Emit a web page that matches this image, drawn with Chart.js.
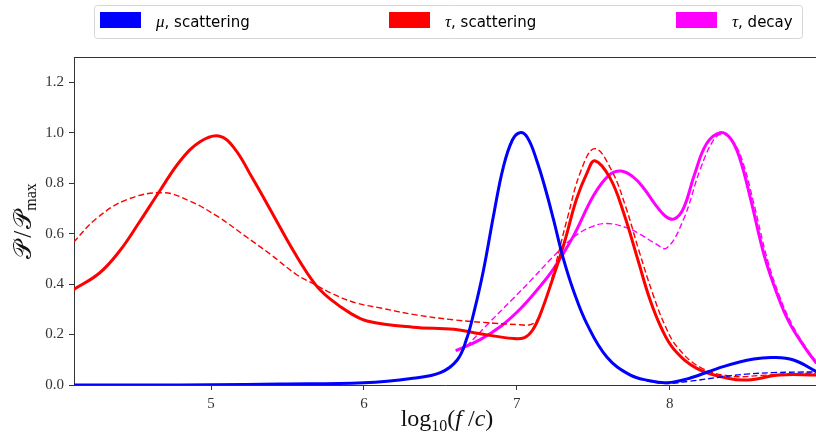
<!DOCTYPE html>
<html>
<head>
<meta charset="utf-8">
<script src="https://cdn.jsdelivr.net/npm/chart.js@4.4.1/dist/chart.umd.min.js"></script>
<style>
  html, body { margin: 0; padding: 0; background: #fff; }
  #wrap { width: 816px; height: 437px; position: relative; }
</style>
</head>
<body>
<div id="wrap"><canvas id="specChart"></canvas></div>
<script>
// axis ticks
const xTicks = [5, 6, 7, 8];
const yTicks = [0, 0.2, 0.4, 0.6, 0.8, 1.0, 1.2];

// mu, scattering (solid + dashed)
const muScatX = [4.10, 4.60, 5.00, 5.45, 6.00, 6.32, 6.50, 6.61, 6.67, 6.72, 6.78, 6.85, 6.91, 6.97, 7.02, 7.07, 7.13, 7.19, 7.24, 7.30, 7.37, 7.46, 7.59, 7.74, 7.86, 7.98, 8.13, 8.35, 8.55, 8.68, 8.81, 8.96];
const muScatY = [0.000, 0.000, 0.001, 0.004, 0.009, 0.027, 0.049, 0.099, 0.180, 0.290, 0.450, 0.680, 0.860, 0.970, 1.000, 0.980, 0.890, 0.770, 0.655, 0.510, 0.375, 0.240, 0.110, 0.040, 0.018, 0.009, 0.027, 0.073, 0.103, 0.109, 0.099, 0.053];
const muScatDashX = [4.10, 4.60, 5.00, 5.45, 6.00, 6.32, 6.50, 6.61, 6.67, 6.72, 6.78, 6.85, 6.91, 6.97, 7.02, 7.07, 7.13, 7.19, 7.24, 7.30, 7.37, 7.46, 7.59, 7.74, 7.86, 7.98, 8.13, 8.35, 8.50, 8.68, 8.96];
const muScatDashY = [0.000, 0.000, 0.001, 0.004, 0.009, 0.027, 0.049, 0.099, 0.180, 0.290, 0.450, 0.680, 0.860, 0.970, 1.000, 0.980, 0.890, 0.770, 0.655, 0.510, 0.375, 0.240, 0.110, 0.040, 0.016, 0.006, 0.015, 0.033, 0.043, 0.049, 0.052];

// tau, scattering (solid + dashed)
const tauScatX = [4.10, 4.27, 4.40, 4.53, 4.67, 4.80, 4.93, 5.05, 5.15, 5.27, 5.41, 5.54, 5.68, 5.78, 5.91, 6.02, 6.32, 6.59, 6.76, 6.98, 7.05, 7.10, 7.15, 7.24, 7.31, 7.39, 7.46, 7.51, 7.61, 7.70, 7.79, 7.87, 7.95, 8.03, 8.18, 8.38, 8.51, 8.72, 8.96];
const tauScatY = [0.378, 0.444, 0.530, 0.645, 0.775, 0.890, 0.965, 0.987, 0.940, 0.820, 0.670, 0.530, 0.400, 0.340, 0.285, 0.254, 0.229, 0.221, 0.203, 0.184, 0.188, 0.215, 0.275, 0.431, 0.563, 0.736, 0.842, 0.889, 0.820, 0.680, 0.500, 0.340, 0.220, 0.140, 0.065, 0.027, 0.020, 0.040, 0.040];
const tauScatDashX = [4.10, 4.25, 4.45, 4.69, 4.86, 5.04, 5.21, 5.39, 5.56, 5.68, 5.80, 5.95, 6.11, 6.32, 6.59, 6.85, 7.02, 7.08, 7.13, 7.18, 7.25, 7.33, 7.42, 7.51, 7.62, 7.71, 7.80, 7.89, 7.97, 8.05, 8.20, 8.40, 8.60, 8.80, 8.96];
const tauScatDashY = [0.566, 0.660, 0.735, 0.762, 0.729, 0.669, 0.596, 0.517, 0.437, 0.398, 0.360, 0.325, 0.305, 0.280, 0.258, 0.245, 0.239, 0.238, 0.255, 0.320, 0.470, 0.660, 0.850, 0.937, 0.850, 0.710, 0.530, 0.360, 0.235, 0.150, 0.070, 0.035, 0.038, 0.045, 0.047];

// tau, decay (solid + dashed)
const tauDecayX = [6.60, 6.76, 6.90, 7.02, 7.13, 7.24, 7.37, 7.50, 7.60, 7.68, 7.76, 7.83, 7.90, 7.97, 8.03, 8.09, 8.16, 8.24, 8.33, 8.40, 8.46, 8.53, 8.62, 8.70, 8.78, 8.88, 8.96];
const tauDecayY = [0.136, 0.180, 0.235, 0.300, 0.375, 0.460, 0.590, 0.749, 0.830, 0.848, 0.825, 0.780, 0.720, 0.670, 0.658, 0.700, 0.830, 0.955, 1.000, 0.975, 0.895, 0.735, 0.510, 0.365, 0.250, 0.152, 0.086];
const tauDecayDashX = [6.63, 6.80, 6.98, 7.10, 7.24, 7.37, 7.48, 7.59, 7.72, 7.81, 7.90, 7.98, 8.09, 8.20, 8.29, 8.35, 8.42, 8.48, 8.55, 8.64, 8.72, 8.80, 8.90, 8.96];
const tauDecayDashY = [0.127, 0.235, 0.345, 0.420, 0.510, 0.585, 0.625, 0.640, 0.623, 0.596, 0.563, 0.543, 0.656, 0.855, 0.974, 0.995, 0.960, 0.880, 0.720, 0.495, 0.350, 0.240, 0.140, 0.090];

const toPoints = (xs, ys) => xs.map((x, i) => ({ x: x, y: ys[i] }));

function lineSet(label, xs, ys, color, dashed) {
  return {
    label: label,
    data: toPoints(xs, ys),
    borderColor: color,
    backgroundColor: color,
    borderWidth: dashed ? 1.4 : 3,
    borderDash: dashed ? [6, 3] : [],
    pointRadius: 0,
    tension: 0.4,
    fill: false
  };
}

const serif = "'Liberation Serif', 'DejaVu Serif', serif";

// legend + axis titles + top frame line, matplotlib style
const decorPlugin = {
  id: 'decor',
  afterDraw(chart) {
    const ctx = chart.ctx;
    const area = chart.chartArea;
    ctx.save();

    // top spine
    ctx.strokeStyle = '#333';
    ctx.lineWidth = 1;
    ctx.beginPath();
    ctx.moveTo(area.left, area.top + 0.5);
    ctx.lineTo(area.right, area.top + 0.5);
    ctx.stroke();

    // legend frame
    ctx.strokeStyle = '#d6d6d6';
    ctx.fillStyle = 'rgba(255,255,255,0.8)';
    ctx.beginPath();
    ctx.roundRect(94.5, 5.5, 708, 33, 3);
    ctx.fill();
    ctx.stroke();

    const items = [
      { sym: 'μ', rest: ', scattering', color: '#0000ff', x: 100 },
      { sym: 'τ', rest: ', scattering', color: '#ff0000', x: 389 },
      { sym: 'τ', rest: ', decay', color: '#ff00ff', x: 676 }
    ];
    items.forEach(it => {
      ctx.fillStyle = it.color;
      ctx.fillRect(it.x, 12, 41, 16);
      ctx.fillStyle = '#000';
      ctx.textBaseline = 'alphabetic';
      ctx.textAlign = 'left';
      ctx.font = "italic 17px " + serif;
      let tx = it.x + 56;
      ctx.fillText(it.sym, tx, 27);
      tx += ctx.measureText(it.sym).width;
      ctx.font = "15px 'DejaVu Sans', sans-serif";
      ctx.fillText(it.rest, tx, 27);
    });

    // x axis title: log10(f/c)
    ctx.fillStyle = '#111';
    const xParts = [
      { t: 'log', f: "24px " + serif, dy: 0 },
      { t: '10', f: "16px " + serif, dy: 5 },
      { t: '(', f: "24px " + serif, dy: 0 },
      { t: 'f', f: "italic 24px " + serif, dy: 0 },
      { t: ' /', f: "24px " + serif, dy: 0 },
      { t: 'c', f: "italic 24px " + serif, dy: 0 },
      { t: ')', f: "24px " + serif, dy: 0 }
    ];
    let w = 0;
    xParts.forEach(p => { ctx.font = p.f; w += ctx.measureText(p.t).width; });
    let cx = (area.left + area.right) / 2 - w / 2 + 2;
    xParts.forEach(p => {
      ctx.font = p.f;
      ctx.fillText(p.t, cx, 426 + p.dy);
      cx += ctx.measureText(p.t).width;
    });

    // y axis title: P/P_max
    const yParts = [
      { t: '𝒫', f: "25px " + serif, dy: 0, gap: 3 },
      { t: '/', f: "25px " + serif, dy: 0, gap: 2 },
      { t: '𝒫', f: "25px " + serif, dy: 0, gap: 0 },
      { t: 'max', f: "16px " + serif, dy: 5, gap: 0 }
    ];
    w = 0;
    yParts.forEach(p => { ctx.font = p.f; w += ctx.measureText(p.t).width + p.gap; });
    ctx.translate(31, 221);
    ctx.rotate(-Math.PI / 2);
    cx = -w / 2;
    yParts.forEach(p => {
      ctx.font = p.f;
      ctx.fillText(p.t, cx, p.dy);
      cx += ctx.measureText(p.t).width + p.gap;
    });
    ctx.restore();
  }
};

const specChart = new Chart(document.getElementById('specChart'), {
  type: 'line',
  data: {
    datasets: [
      lineSet('μ, scattering', muScatX, muScatY, '#0000ff', false),
      lineSet('μ, scattering (dashed)', muScatDashX, muScatDashY, '#0000ff', true),
      lineSet('τ, scattering', tauScatX, tauScatY, '#ff0000', false),
      lineSet('τ, scattering (dashed)', tauScatDashX, tauScatDashY, '#ff0000', true),
      lineSet('τ, decay', tauDecayX, tauDecayY, '#ff00ff', false),
      lineSet('τ, decay (dashed)', tauDecayDashX, tauDecayDashY, '#ff00ff', true)
    ]
  },
  options: {
    responsive: true,
    maintainAspectRatio: false,
    animation: false,
    layout: { padding: { top: 57, left: 0, right: 0, bottom: 0 } },
    plugins: {
      legend: { display: false },
      tooltip: { enabled: false }
    },
    scales: {
      x: {
        type: 'linear',
        min: 4.103,
        max: 8.957,
        afterFit: s => { s.height = 52; },
        afterBuildTicks: s => { s.ticks = xTicks.map(v => ({ value: v })); },
        grid: { display: true, drawOnChartArea: false, drawTicks: true, tickLength: 5, color: '#333' },
        border: { display: true, color: '#333', width: 1 },
        ticks: {
          padding: 5,
          color: '#333',
          maxRotation: 0,
          font: { family: serif, size: 15 },
          callback: v => String(v)
        }
      },
      y: {
        type: 'linear',
        min: 0,
        max: 1.3,
        afterFit: s => { s.width = 74; },
        afterBuildTicks: s => { s.ticks = yTicks.map(v => ({ value: v })); },
        grid: { display: true, drawOnChartArea: false, drawTicks: true, tickLength: 5, color: '#333' },
        border: { display: true, color: '#333', width: 1 },
        ticks: {
          padding: 5,
          color: '#333',
          font: { family: serif, size: 15 },
          callback: v => v.toFixed(1)
        }
      }
    }
  },
  plugins: [decorPlugin]
});
</script>
</body>
</html>
